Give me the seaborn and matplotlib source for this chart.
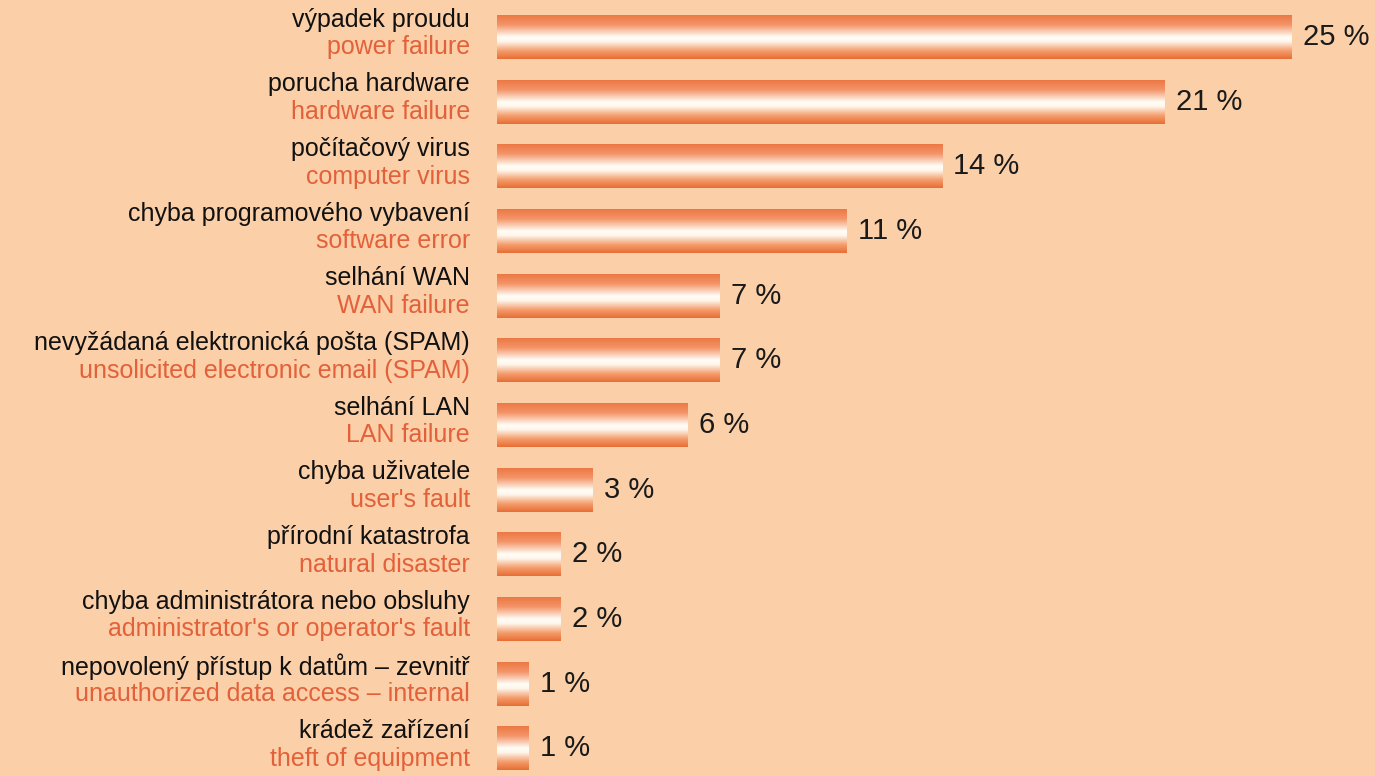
import numpy as np
import pandas as pd
import matplotlib
matplotlib.use("Agg")
import matplotlib.pyplot as plt
from matplotlib.colors import LinearSegmentedColormap
import seaborn as sns

# Causes of data loss (Czech / English labels)
labels_cz = ["výpadek proudu", "porucha hardware", "počítačový virus",
             "chyba programového vybavení", "selhání WAN",
             "nevyžádaná elektronická pošta (SPAM)", "selhání LAN",
             "chyba uživatele", "přírodní katastrofa",
             "chyba administrátora nebo obsluhy",
             "nepovolený přístup k datům – zevnitř", "krádež zařízení"]
labels_en = ["power failure", "hardware failure", "computer virus",
             "software error", "WAN failure",
             "unsolicited electronic email (SPAM)", "LAN failure",
             "user's fault", "natural disaster",
             "administrator's or operator's fault",
             "unauthorized data access – internal", "theft of equipment"]
values = [25, 21, 14, 11, 7, 7, 6, 3, 2, 2, 1, 1]

bg = "#FBCFA7"
bar_orange = "#EE773D"
en_color = "#E2613A"

df = pd.DataFrame({"cause": labels_cz, "pct": values})

sns.set_theme(style="white")
plt.rcParams["font.family"] = ["Liberation Sans", "DejaVu Sans"]

fig = plt.figure(figsize=(13.75, 7.76), dpi=100, facecolor=bg)
ax = fig.add_axes([497 / 1375, 0, 1 - 497 / 1375, 1])
ax.set_facecolor(bg)

sns.barplot(data=df, x="pct", y="cause", orient="h", color=bar_orange,
            width=0.68, ax=ax, saturation=1, linewidth=0, edgecolor="none")

# vertical gradient inside each bar: orange edges, white middle
grad = LinearSegmentedColormap.from_list(
    "bar", [(0.0, "#EC7844"), (0.22, "#F49468"), (0.50, "#FFFDF6"),
            (0.60, "#FFF6EC"), (0.82, "#F39A68"), (1.0, "#E86E35")])
g = np.linspace(0, 1, 256).reshape(-1, 1)
for p in ax.patches:
    x0, y0 = p.get_x(), p.get_y()
    w, h = p.get_width(), p.get_height()
    im = ax.imshow(g, cmap=grad, aspect="auto", origin="upper",
                   extent=(x0, x0 + w, y0 + h, y0), zorder=3)
    im.set_clip_path(p)

ax.set_xlim(0, (1375 - 497) / 31.8)
ax.set_ylim(11.43, -0.573)

for c in ax.containers:
    ax.bar_label(c, labels=[f"{v} %" for v in values], padding=8,
                 fontsize=21, color="#1a1a1a")

for i, (cz, en) in enumerate(zip(labels_cz, labels_en)):
    ax.annotate(cz, xy=(0, i), xycoords=("axes fraction", "data"),
                xytext=(-19.5, 12.5), textcoords="offset points",
                ha="right", va="center", fontsize=18, color="#111111")
    ax.annotate(en, xy=(0, i), xycoords=("axes fraction", "data"),
                xytext=(-19.5, -7.5), textcoords="offset points",
                ha="right", va="center", fontsize=18, color=en_color)

ax.set_xlabel("")
ax.set_ylabel("")
ax.set_xticks([])
ax.set_yticks([])
sns.despine(ax=ax, left=True, bottom=True)

fig.savefig("out.png", dpi=100, facecolor=bg)
